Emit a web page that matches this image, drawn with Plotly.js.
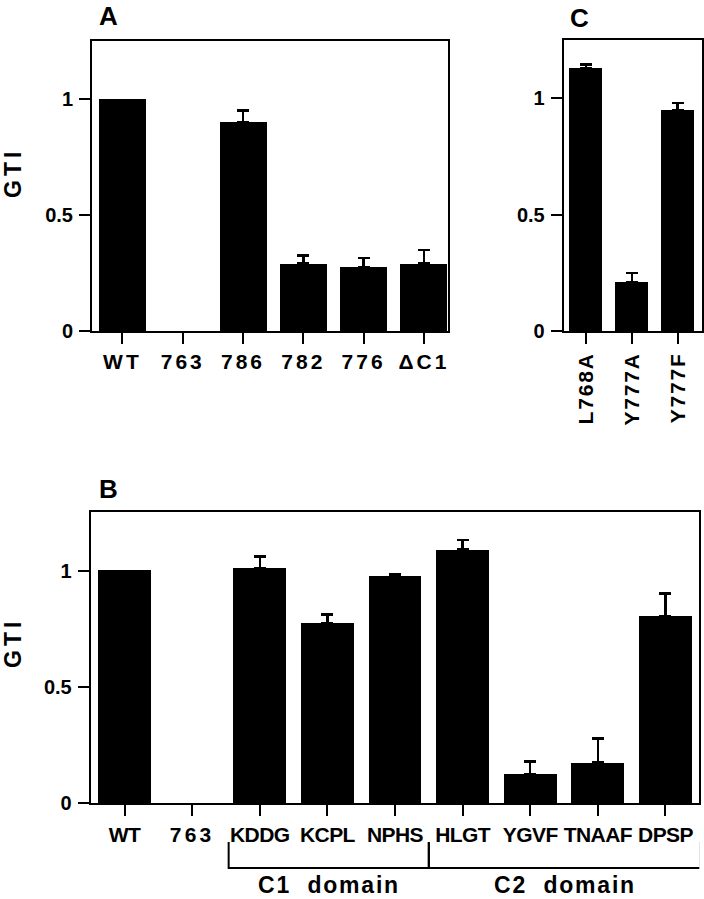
<!DOCTYPE html>
<html><head><meta charset="utf-8">
<script src="https://cdn.plot.ly/plotly-3.0.1.min.js"></script>
<style>html,body{margin:0;padding:0;background:#fff;}#chart{width:704px;height:899px;}</style>
</head><body><div id="chart"></div>
<script>
// ---- Panel A ----
const catsA = ['WT','763','786','782','776','ΔC1'];
const valsA = [1.0, 0, 0.90, 0.29, 0.275, 0.29];
const errA  = [null, null, 0.05, 0.036, 0.04, 0.06];
// ---- Panel B ----
const catsB = ['WT','763','KDDG','KCPL','NPHS','HLGT','YGVF','TNAAF','DPSP'];
const valsB = [1.0, 0, 1.01, 0.775, 0.975, 1.09, 0.125, 0.175, 0.805];
const errB  = [null, null, 0.05, 0.037, 0.009, 0.042, 0.054, 0.103, 0.097];
// ---- Panel C ----
const catsC = ['L768A','Y777A','Y777F'];
const valsC = [1.13, 0.21, 0.95];
const errC  = [0.015, 0.04, 0.03];
// ---- Shared text ----
const yTickVals = [0, 0.5, 1];
const yTickLabels = ['0','0.5','1'];
const yTitle = 'GTI';
const panelLabels = ['A','B','C'];
const groupLabels = ['C1  domain','C2  domain'];
const groupFirst = ['KDDG','HLGT'];
const groupLast = ['NPHS','DPSP'];

const W = 704, H = 899;
const fx = p => p / W;
const fy = p => 1 - p / H;
const FONT = 'Liberation Sans, Arial, Helvetica, sans-serif';
const sp = (t, ls) => `<span style="letter-spacing:${ls}px">${t}</span>`;

function barTrace(cats, vals, errs, xa, ya, width) {
  return {
    type: 'bar', x: cats, y: vals, xaxis: xa, yaxis: ya, width: width,
    marker: {color: '#000', line: {width: 0}},
    error_y: {type: 'data', symmetric: false,
              array: errs.map(e => (e == null ? NaN : e)),
              arrayminus: errs.map(e => (e == null ? NaN : 0)),
              color: '#000', thickness: 2.5, width: 6},
    hoverinfo: 'skip', showlegend: false
  };
}

const data = [
  barTrace(catsA, valsA, errA, 'x', 'y', 0.78),
  barTrace(catsB, valsB, errB, 'x2', 'y2', 0.78),
  barTrace(catsC, valsC, errC, 'x3', 'y3', 0.72)
];

const axBase = {
  showline: true, mirror: true, linewidth: 2, linecolor: '#000',
  ticks: 'outside', ticklen: 11, tickwidth: 2, tickcolor: '#000',
  showgrid: false, zeroline: false, fixedrange: true, automargin: false,
  tickfont: {family: FONT, size: 21, color: '#000', weight: 700}
};
function yAx(dom, anchor) {
  return Object.assign({}, axBase, {
    domain: dom, anchor: anchor, range: [0, 1.25],
    tickmode: 'array', tickvals: yTickVals, ticktext: yTickLabels,
    ticklabelstandoff: 2,
    tickfont: {family: FONT, size: 20, color: '#000', weight: 700}
  });
}

const layout = {
  width: W, height: H,
  margin: {l: 0, r: 0, t: 0, b: 0},
  paper_bgcolor: '#fff', plot_bgcolor: '#fff',
  bargap: 0,
  xaxis: Object.assign({}, axBase, {
    domain: [fx(92), fx(448)], anchor: 'y', type: 'category', range: [-0.505, 5.4],
    tickmode: 'array', tickvals: catsA, ticktext: catsA.map(t => sp(t, 3))
  }),
  yaxis: yAx([fy(331), fy(41)], 'x'),
  xaxis2: Object.assign({}, axBase, {
    domain: [fx(90.7), fx(699.3)], anchor: 'y2', type: 'category', range: [-0.5, 8.5],
    tickmode: 'array', tickvals: catsB,
    ticktext: catsB.map(t => /^\d+$/.test(t) ? sp(t, 3.3) : sp(t, -0.6))
  }),
  yaxis2: yAx([fy(803.3), fy(512.3)], 'x2'),
  xaxis3: Object.assign({}, axBase, {
    domain: [fx(563.7), fx(702)], anchor: 'y3', type: 'category', range: [-0.485, 2.53],
    tickangle: -90,
    tickmode: 'array', tickvals: catsC, ticktext: catsC.map(t => sp(t, 1.8))
  }),
  yaxis3: yAx([fy(331), fy(40)], 'x3'),
  shapes: [],
  annotations: []
};

// panel letters
const letterPos = [[108, 16], [108, 489], [579, 18]];
panelLabels.forEach((t, i) => {
  layout.annotations.push({
    text: t, xref: 'paper', yref: 'paper', x: fx(letterPos[i][0]), y: fy(letterPos[i][1]),
    xanchor: 'center', yanchor: 'middle', showarrow: false,
    font: {family: FONT, size: 26, color: '#000', weight: 700}
  });
});
// y titles
[[13, 173], [13, 643]].forEach(p => {
  layout.annotations.push({
    text: sp(yTitle, 4), xref: 'paper', yref: 'paper', x: fx(p[0]), y: fy(p[1]),
    xanchor: 'center', yanchor: 'middle', textangle: -90, showarrow: false,
    font: {family: FONT, size: 23, color: '#000', weight: 700}
  });
});
// domain brackets under panel B
const yTop = fy(842), yBot = fy(868);
groupLabels.forEach((g, i) => {
  const i0 = catsB.indexOf(groupFirst[i]), i1 = catsB.indexOf(groupLast[i]);
  const x0 = i0 - 0.5 + (i === 0 ? 0.04 : 0);
  const x1 = i1 + 0.5 + (i === groupLabels.length - 1 ? 0.02 : 0);
  layout.shapes.push({
    type: 'path', xref: 'x2', yref: 'paper',
    path: `M ${x0},${yTop} L ${x0},${yBot} L ${x1},${yBot} L ${x1},${yTop}`,
    line: {color: '#000', width: 2}
  });
  layout.annotations.push({
    text: sp(g, 1.8), xref: 'x2', yref: 'paper', x: (x0 + x1) / 2, y: fy(884.5),
    xanchor: 'center', yanchor: 'middle', showarrow: false,
    font: {family: FONT, size: 23, color: '#000', weight: 700}
  });
});

Plotly.newPlot('chart', data, layout, {staticPlot: true, displayModeBar: false});
</script></body></html>
